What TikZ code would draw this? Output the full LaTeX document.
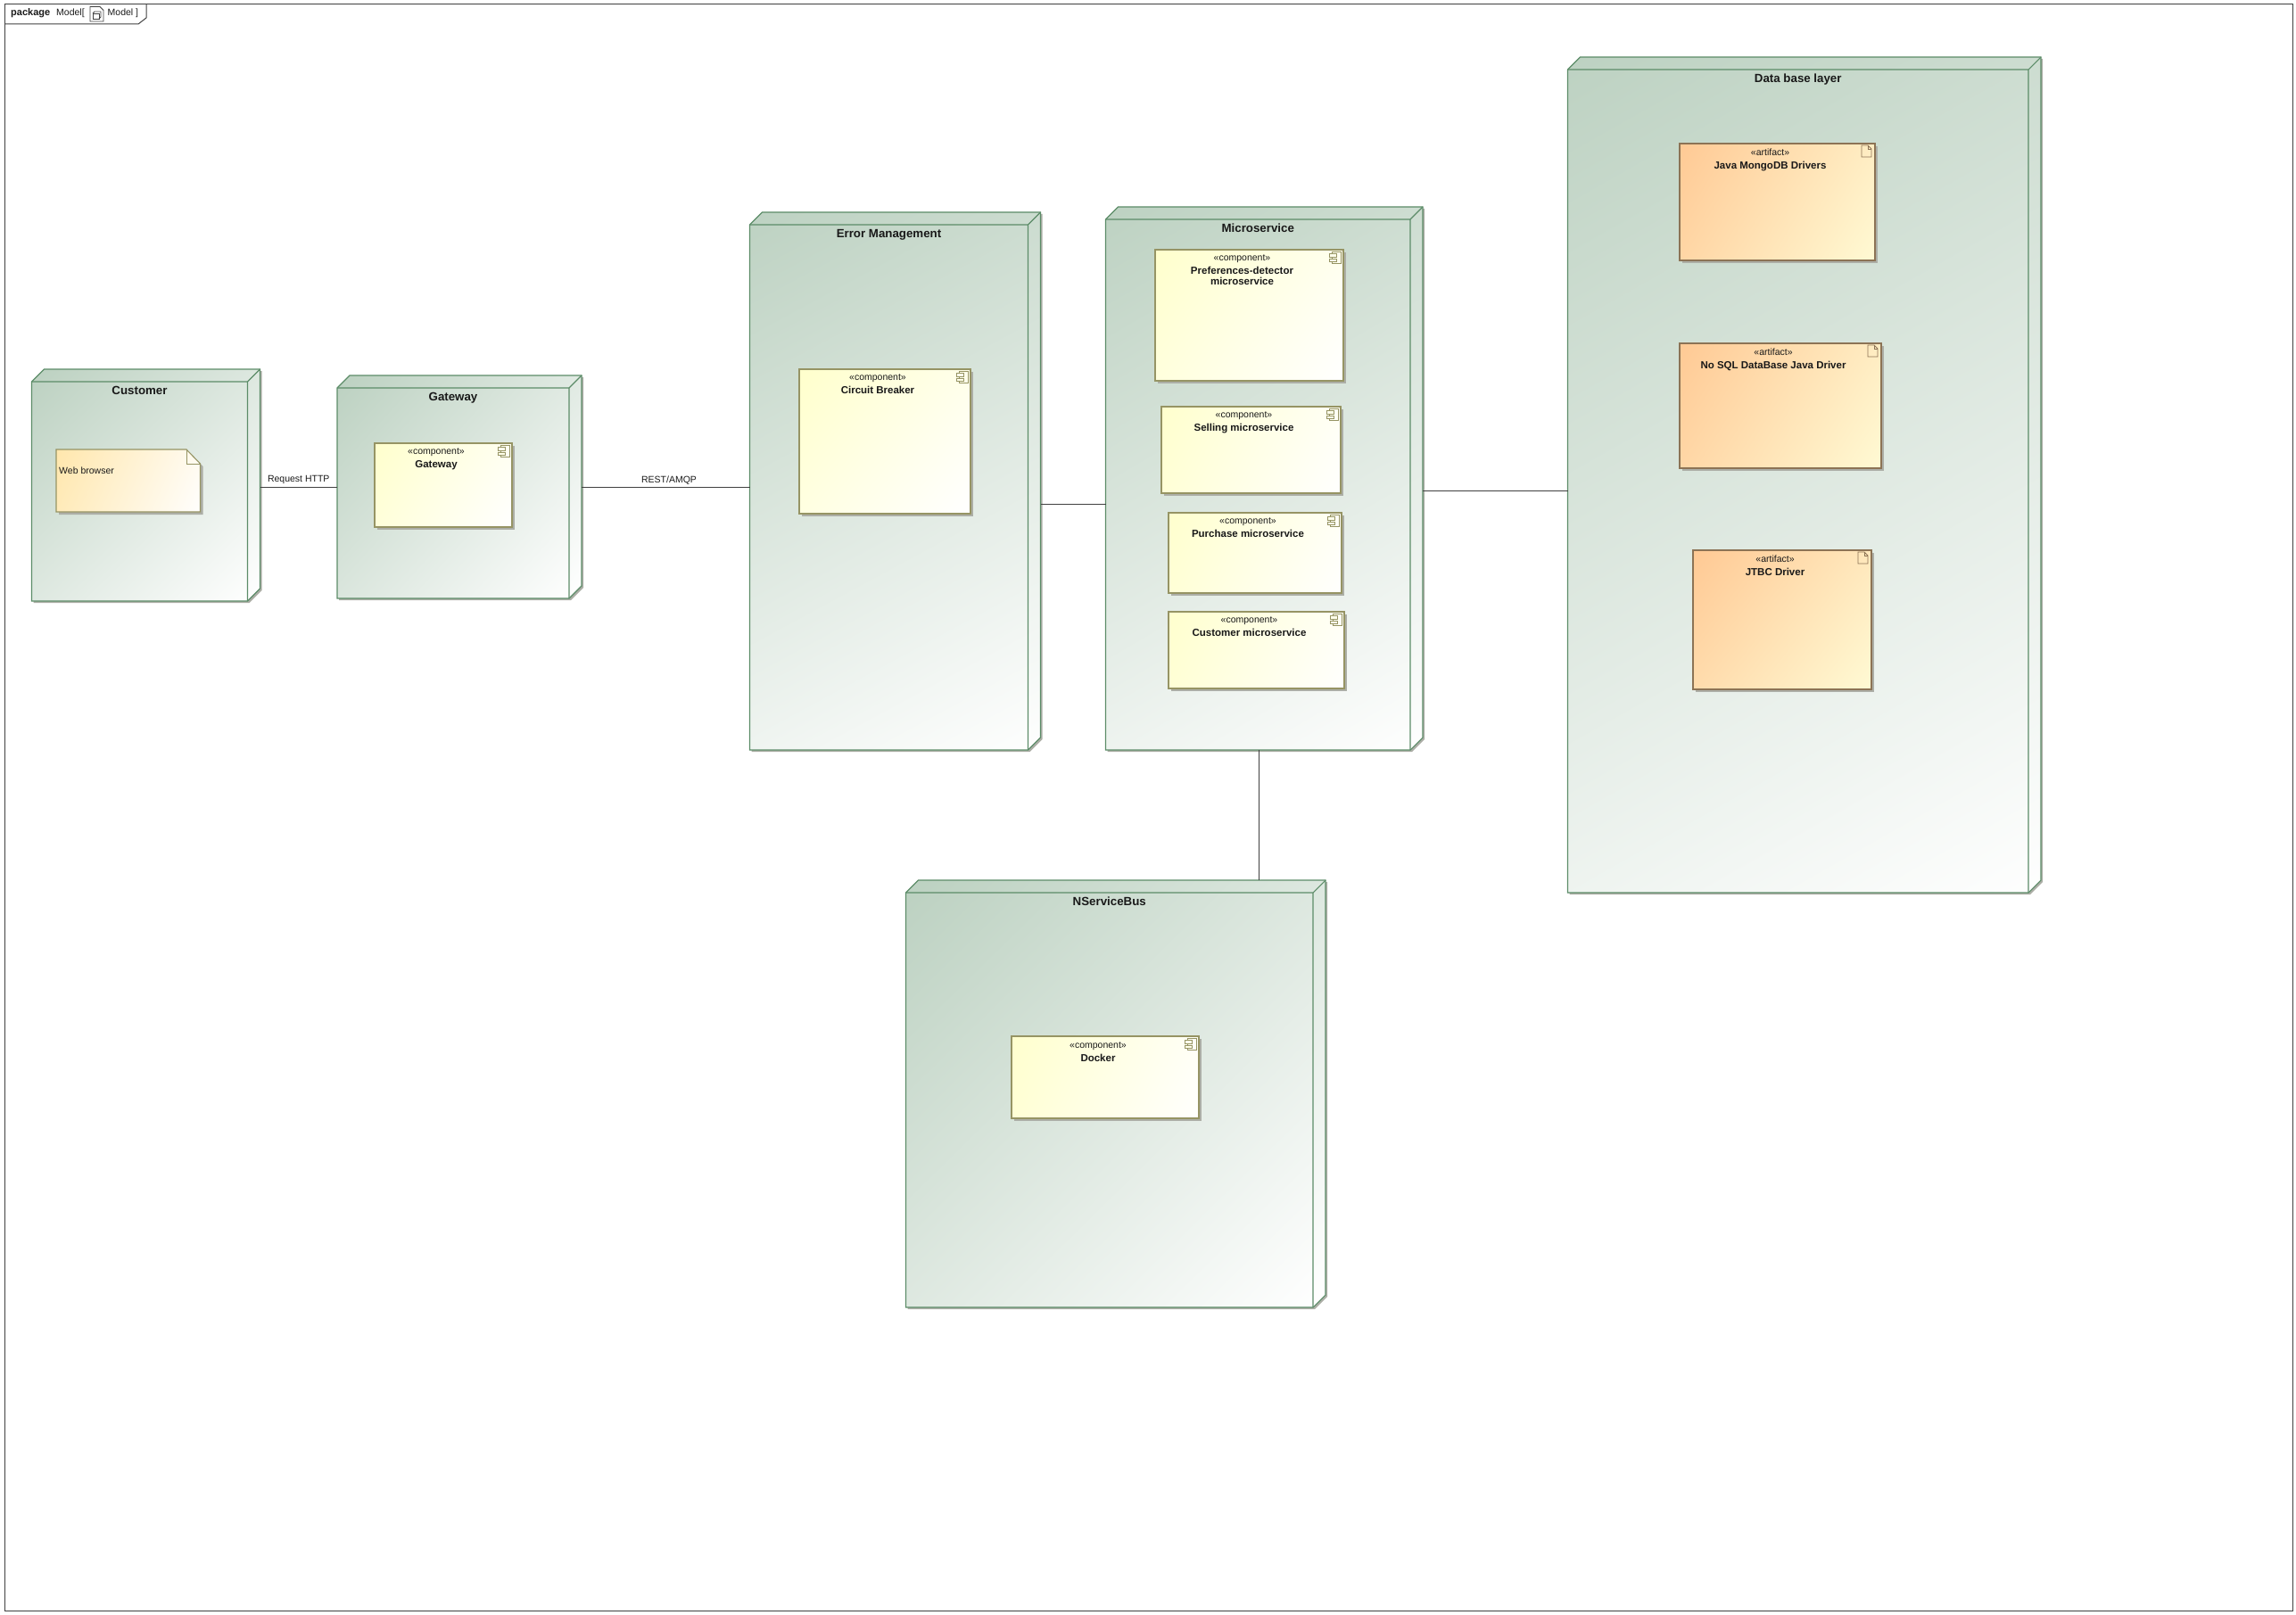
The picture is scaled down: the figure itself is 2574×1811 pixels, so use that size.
\documentclass[tikz,border=0pt]{standalone}
\usepackage{fontspec}
\setmainfont{Liberation Sans}
\usetikzlibrary{calc}

\definecolor{nodegreen}{RGB}{188,209,193}
\definecolor{nodeline}{RGB}{92,140,104}
\definecolor{compline}{RGB}{150,148,100}
\definecolor{artline}{RGB}{140,115,85}
\definecolor{shadowgray}{RGB}{172,174,166}
\definecolor{compyellow}{RGB}{255,255,204}
\definecolor{artorange}{RGB}{255,201,148}
\definecolor{artcream}{RGB}{255,250,212}
\definecolor{noteorange}{RGB}{255,230,170}
\definecolor{framegray}{RGB}{64,64,64}

\pgfdeclareverticalshading{nodeshade}{100bp}{color(0bp)=(white); color(15bp)=(white); color(85bp)=(nodegreen); color(100bp)=(nodegreen)}
\pgfdeclareverticalshading{compshade}{100bp}{color(0bp)=(white); color(15bp)=(white); color(85bp)=(compyellow); color(100bp)=(compyellow)}
\pgfdeclareverticalshading{artshade}{100bp}{color(0bp)=(artcream); color(15bp)=(artcream); color(85bp)=(artorange); color(100bp)=(artorange)}
\pgfdeclareverticalshading{noteshade}{100bp}{color(0bp)=(white); color(15bp)=(white); color(85bp)=(noteorange); color(100bp)=(noteorange)}

\newcommand{\titlefont}{\bfseries\fontsize{11.5}{12}\selectfont}

% name, left, back top, back right, bottom, title
\newcommand{\nodebox}[6]{
    \pgfmathsetmacro\boxw{#4-#2}
    \pgfmathsetmacro\boxh{#5-#3}
    \pgfmathsetmacro\boxang{atan(\boxw/\boxh)}
    \fill[shadowgray, shift={(2,2)}] (#2,#3+14) -- (#2+14,#3) -- (#4,#3) -- (#4,#5-14) -- (#4-14,#5) -- (#2,#5) -- cycle;
    \path[shading=nodeshade, shading angle=\boxang] (#2,#3+14) -- (#2+14,#3) -- (#4,#3) -- (#4,#5-14) -- (#4-14,#5) -- (#2,#5) -- cycle;
    \draw[nodeedge] (#2,#3+14) -- (#2+14,#3) -- (#4,#3) -- (#4,#5-14) -- (#4-14,#5) -- (#2,#5) -- cycle;
    \draw[nodeedge] (#2,#3+14) -- (#4-14,#3+14) -- (#4-14,#5) (#4-14,#3+14) -- (#4,#3);
    \node[boxanchor, minimum width=\boxw pt, minimum height=\boxh pt] (#1) at ({(#2+#4)/2},{(#3+#5)/2}) {};
    \node[nodetitle] (#1-title) at ({(#2+#4-14)/2},#3+25) {#6};
}

% name, left, top, right, bottom, edge colour, shading, stereotype, title
\newcommand{\innerbox}[9]{
    \pgfmathsetmacro\boxw{#4-#2}
    \pgfmathsetmacro\boxh{#5-#3}
    \pgfmathsetmacro\boxang{atan(\boxw/\boxh)}
    \fill[shadowgray] (#2+3,#3+3) rectangle (#4+3,#5+3);
    \path[shading=#7, shading angle=\boxang, draw=#6, line width=1.1pt] (#2,#3) rectangle (#4,#5);
    \node[boxanchor, minimum width=\boxw pt, minimum height=\boxh pt] (#1) at ({(#2+#4)/2},{(#3+#5)/2}) {};
    \node[innertext] (#1-text) at ({(#2+#4)/2-8},#3+6) {«#8»\\[3pt]\titlefont #9};
}

\newcommand{\compbox}[6]{
    \innerbox{#1}{#2}{#3}{#4}{#5}{compline}{compshade}{component}{#6}
    \pic at (#4-16,#3+2) {compicon};
}
\newcommand{\artbox}[6]{
    \innerbox{#1}{#2}{#3}{#4}{#5}{artline}{artshade}{artifact}{#6}
    \pic at (#4-15,#3+2) {articon};
}

\begin{document}
\begin{tikzpicture}[
    x=1pt, y=-1pt,
    % Text
    nodetitle/.style={font=\fontsize{13.3}{15}\selectfont\bfseries, text=black!90, inner sep=0pt, text height=10pt, text depth=3pt},
    innertext/.style={anchor=north, align=center, inner sep=0pt, font=\fontsize{10.5}{12}\selectfont, text=black!90},
    plaintext/.style={font=\fontsize{10.5}{12}\selectfont, text=black!90, inner sep=0pt},
    % Boxes
    boxanchor/.style={rectangle, inner sep=0pt, outer sep=0pt},
    nodeedge/.style={draw=nodeline, line width=1.1pt, line join=miter},
    link/.style={draw=framegray, line width=1pt},
    frameline/.style={draw=framegray, line width=1pt},
    % Icons in the corner of the boxes
    compicon/.pic={
        \draw[compline, line width=0.9pt] (3,0) rectangle (13,13);
        \draw[compline, line width=0.9pt, fill=compyellow!40] (0,2.5) rectangle (8,6);
        \draw[compline, line width=0.9pt, fill=compyellow!40] (0,8) rectangle (8,11.5);
    },
    articon/.pic={
        \draw[artline, line width=0.9pt] (0,0) -- (7,0) -- (11,4) -- (11,13) -- (0,13) -- cycle;
        \draw[artline, line width=0.9pt] (7,0) -- (7,4) -- (11,4);
    }
]
\useasboundingbox (0,0) rectangle (2574,1811);

% Package frame
\node[frameline, boxanchor, minimum width=2565pt, minimum height=1801pt] (model) at (1287.5,905.5) {};
\draw[frameline] (5,27) -- (155,27) -- (164,20) -- (164,5);
\node[plaintext, anchor=west, font=\fontsize{11}{13}\selectfont\bfseries] (pkgword) at (12,15) {package};
\node[plaintext, anchor=west] (pkgname) at (63,15) {Model[};
\draw[framegray, line width=0.8pt] (101,7.5) -- (112,7.5) -- (116,11.5) -- (116,24) -- (101,24) -- cycle;
\draw[framegray, line width=0.8pt] (104,15) rectangle (111,21);
\draw[framegray, line width=0.8pt] (104,15) -- (106,13) -- (113,13) -- (113,19) -- (111,21);
\node[plaintext, anchor=west] (pkgmodel) at (120.5,15) {Model ]};

% Customer
\nodebox{customer}{35.5}{414}{291.5}{674}{Customer}
\fill[shadowgray] (66,507) -- (212,507) -- (227.5,523) -- (227.5,577) -- (66,577) -- cycle;
\path[shading=noteshade, shading angle=66, draw=compline, line width=1.1pt] (63,504) -- (209,504) -- (224.5,520) -- (224.5,574) -- (63,574) -- cycle;
\draw[compline, line width=1pt] (209,504) -- (209,520) -- (224.5,520);
\node[boxanchor, minimum width=161.5pt, minimum height=70pt] (webbrowser) at (143.75,539) {};
\node[plaintext, anchor=west] (webbrowser-text) at (66,528) {Web browser};

% Gateway
\nodebox{gateway}{378}{421}{652}{671}{Gateway}
\compbox{gatewaycomp}{420}{497}{574}{591}{Gateway}

% Error Management
\nodebox{errormgmt}{840.5}{238}{1166.5}{841}{Error Management}
\compbox{circuit}{896}{414}{1088}{576}{Circuit Breaker}

% Microservice
\nodebox{microservice}{1239.5}{232}{1595}{841}{Microservice}
\compbox{preferences}{1295}{280}{1506}{427}{Preferences-detector\\\titlefont microservice}
\compbox{selling}{1302}{456}{1503}{553}{Selling microservice}
\compbox{purchase}{1310}{575}{1504}{665}{Purchase microservice}
\compbox{customerms}{1310}{686}{1507}{772}{Customer microservice}

% Data base layer
\nodebox{database}{1757.5}{64}{2288}{1001}{Data base layer}
\artbox{mongodrivers}{1883}{161}{2102}{292}{Java MongoDB Drivers}
\artbox{nosqldriver}{1883}{385}{2109}{525}{No SQL DataBase Java Driver}
\artbox{jtbcdriver}{1898}{617}{2098}{773}{JTBC Driver}

% NServiceBus
\nodebox{nservicebus}{1015.5}{987}{1486}{1466}{NServiceBus}
\compbox{docker}{1134}{1162}{1344}{1254}{Docker}

% Connections
\coordinate (httplink) at (0,546.5);
\coordinate (amqplink) at (0,546.5);
\coordinate (errorlink) at (0,565.5);
\coordinate (dblink) at (0,550.5);
\coordinate (buslink) at (1411.5,0);
\draw[link] (customer.east |- httplink) -- node[plaintext, above=3pt] {Request HTTP} (gateway.west |- httplink);
\draw[link] (gateway.east |- amqplink) -- node[plaintext, above=3pt, pos=0.52] {REST/AMQP} (errormgmt.west |- amqplink);
\draw[link] (errormgmt.east |- errorlink) -- (microservice.west |- errorlink);
\draw[link] (microservice.east |- dblink) -- (database.west |- dblink);
\draw[link] (microservice.south -| buslink) -- (nservicebus.north -| buslink);

\end{tikzpicture}
\end{document}
